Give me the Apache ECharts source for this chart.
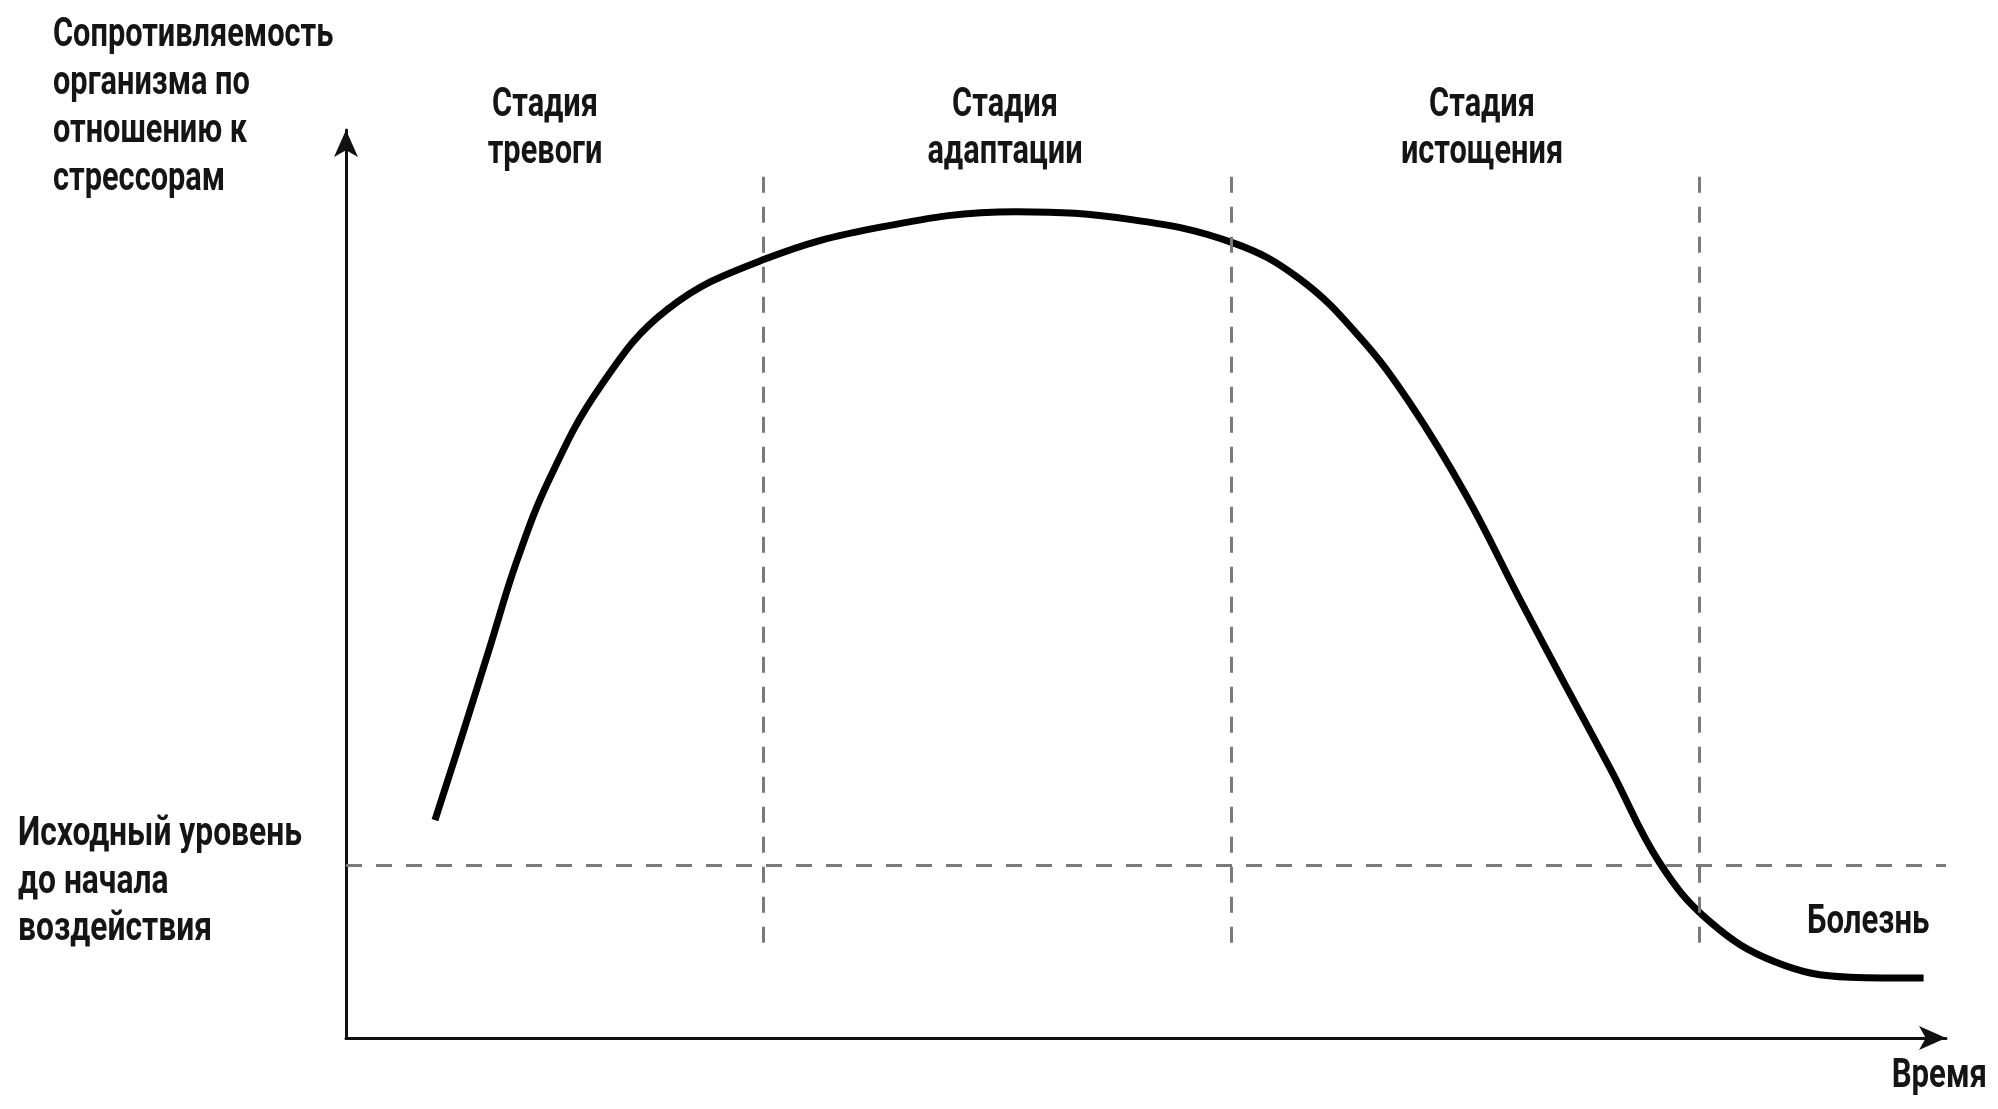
<!DOCTYPE html>
<html lang="ru">
<head>
    <meta charset="UTF-8"/>
    <title>Стадии стресса</title>
    <script src="https://cdn.jsdelivr.net/npm/echarts@6/dist/echarts.min.js"></script>
    <style>
        body { margin: 0; background: #fff; }
    </style>
</head>
<body>
<div id="main" style="width: 1998px;height: 1109px;"></div>
<script type="text/javascript">
    // кривая сопротивляемости (время, уровень)
    var timeValues = [5.56, 7.31, 9.0, 10.69, 12.75, 15.88, 20.06, 26.06, 33.4, 41.9,
        49.2, 55.4, 59.6, 63.4, 66.5, 70.0, 73.4, 76.2, 79.1, 82.1,
        85.25, 89.3, 94.0, 98.6];
    var resistance = [24.0, 33.6, 43.1, 52.6, 61.7, 71.7, 80.2, 85.7, 89.3, 91.0,
        90.1, 87.6, 83.6, 77.1, 69.9, 59.8, 48.2, 38.9, 29.4, 19.3,
        12.8, 8.4, 6.7, 6.6];

    // исходный уровень и границы стадий
    var baseLevel = 19.05;
    var stageBounds = [26.1, 55.3, 84.6];
    var stageSpan = [10.5, 95.7];
    var stageNames = ['Стадия\nтревоги', 'Стадия\nадаптации', 'Стадия\nистощения'];

    var curve = [];
    for (var i = 0; i < timeValues.length; i++) {
        curve.push([timeValues[i], resistance[i]]);
    }

    var dashLines = [[{coord: [0, baseLevel]}, {coord: [100, baseLevel]}]];
    for (var j = 0; j < stageBounds.length; j++) {
        dashLines.push([{coord: [stageBounds[j], stageSpan[0]]}, {coord: [stageBounds[j], stageSpan[1]]}]);
    }

    var font = 'Roboto';
    function label(text, x, y, align, sx, lh) {
        return {
            type: 'text', x: x, y: y, scaleX: sx, silent: true,
            style: {
                text: text, fill: '#151515',
                fontFamily: font, fontSize: 41, fontWeight: 'bold',
                lineHeight: lh, textAlign: align,
                verticalAlign: 'top', textVerticalAlign: 'top'
            }
        };
    }

    var stageX = [545, 1005, 1482];
    var texts = [
        label('Сопротивляемость\nорганизма по\nотношению к\nстрессорам', 53, 12, 'left', 0.75, 48),
        label('Исходный уровень\nдо начала\nвоздействия', 18, 811, 'left', 0.775, 47.5),
        label('Болезнь', 1807, 899, 'left', 0.76, 47),
        label('Время', 1987, 1053, 'right', 0.76, 47)
    ];
    for (var k = 0; k < stageNames.length; k++) {
        texts.push(label(stageNames[k], stageX[k], 82, 'center', 0.75, 47));
    }

    var myChart = echarts.init(document.getElementById('main'));
    myChart.setOption({
        animation: false,
        backgroundColor: '#fff',
        grid: {left: 346, right: 52, top: 130, bottom: 71},
        xAxis: {
            type: 'value', min: 0, max: 100,
            axisLine: {
                onZero: false,
                symbol: ['none', 'arrow'], symbolSize: [18, 27],
                lineStyle: {color: '#111', width: 3}
            },
            axisTick: {show: false},
            axisLabel: {show: false},
            splitLine: {show: false}
        },
        yAxis: {
            type: 'value', min: 0, max: 100,
            axisLine: {
                show: true,
                symbol: ['none', 'arrow'], symbolSize: [18, 27],
                lineStyle: {color: '#111', width: 3}
            },
            axisTick: {show: false},
            axisLabel: {show: false},
            splitLine: {show: false}
        },
        graphic: texts,
        series: [{
            type: 'line',
            data: curve,
            smooth: 0.4,
            smoothConstraint: false,
            symbol: 'none',
            lineStyle: {color: '#000', width: 7},
            markLine: {
                silent: true,
                symbol: ['none', 'none'],
                label: {show: false},
                lineStyle: {color: '#7a7a7a', width: 3, type: [16, 14]},
                data: dashLines
            }
        }]
    });
</script>
</body>
</html>
